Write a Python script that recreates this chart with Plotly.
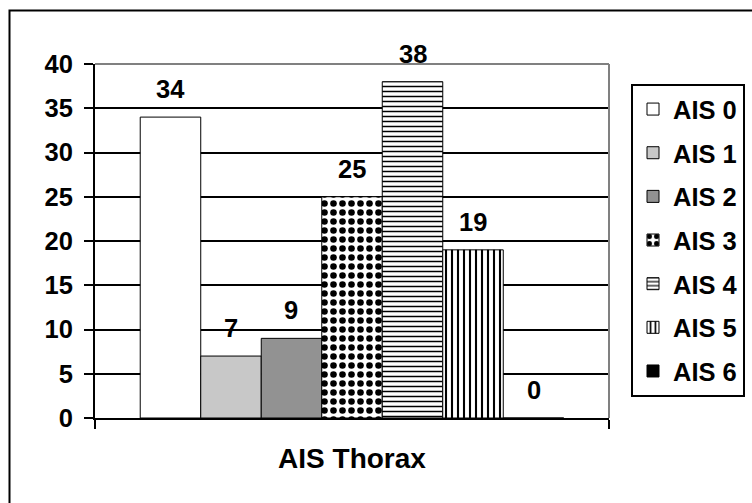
import plotly.graph_objects as go

# Chart data
category = "AIS Thorax"
series_names = ["AIS 0", "AIS 1", "AIS 2", "AIS 3", "AIS 4", "AIS 5", "AIS 6"]
series_values = [34, 7, 9, 25, 38, 19, 0]
y_ticks = [0, 5, 10, 15, 20, 25, 30, 35, 40]

# Fill styles for each series: (fill colour, pattern shape, pattern size, solidity)
fills = [
    ("white", "", 8, 0.3),
    ("#C8C8C8", "", 8, 0.3),
    ("#929292", "", 8, 0.3),
    ("white", ".", 9, 0.42),
    ("white", "-", 5, 0.3),
    ("white", "|", 6, 0.35),
    ("black", "", 8, 0.3),
]

W, H = 752, 503
PLOT_L, PLOT_R, PLOT_T, PLOT_B = 95, 609, 64, 418
BARGAP = 0.176
FONT = "Liberation Sans, Arial, sans-serif"

fig = go.Figure()
for i, (name, val) in enumerate(zip(series_names, series_values)):
    color, shape, size, solid = fills[i]
    marker = dict(color=color, line=dict(color="black", width=1))
    if shape:
        marker["pattern"] = dict(shape=shape, size=size, solidity=solid,
                                 fgcolor="black", bgcolor="white", fillmode="replace")
    fig.add_trace(go.Bar(
        x=[category], y=[val], name=name, marker=marker,
        legendgroup=name,
    ))

# Value labels above each bar, centred on the grouped bar positions
n = len(series_values)
group_w = 1 - BARGAP
bar_w = group_w / n
for i, val in enumerate(series_values):
    xc = -group_w / 2 + bar_w * (i + 0.5)
    fig.add_annotation(
        x=xc, y=val, xref="x", yref="y", text=str(val), showarrow=False,
        yanchor="bottom", yshift=12,
        font=dict(family=FONT, size=25.5, color="black", weight="bold"),
    )

# Grey plot-area border on the top and right sides
px = lambda v: v / W
py = lambda v: 1 - v / H
fig.add_shape(type="line", xref="paper", yref="paper",
              x0=px(PLOT_L), x1=px(PLOT_R), y0=py(PLOT_T), y1=py(PLOT_T),
              line=dict(color="#808080", width=2), layer="above")
fig.add_shape(type="line", xref="paper", yref="paper",
              x0=px(PLOT_R), x1=px(PLOT_R), y0=py(PLOT_T), y1=py(PLOT_B),
              line=dict(color="#808080", width=2), layer="above")

# Outer chart frame
fig.add_shape(type="rect", xref="paper", yref="paper",
              x0=px(9.5), x1=1.1, y0=-0.1, y1=py(10.5),
              line=dict(color="black", width=2), fillcolor="rgba(0,0,0,0)")

fig.update_layout(
    template="none",
    width=W, height=H,
    margin=dict(l=0, r=0, t=0, b=0),
    paper_bgcolor="white", plot_bgcolor="white",
    barmode="group", bargap=BARGAP, bargroupgap=0,
    font=dict(family=FONT, size=25.5, color="black", weight="bold"),
    xaxis=dict(
        domain=[px(PLOT_L), px(PLOT_R)],
        type="category", range=[-0.5, 0.5],
        showline=True, linecolor="black", linewidth=2,
        ticks="outside", tickson="boundaries", ticklen=9, tickwidth=1.5,
        tickcolor="black", showgrid=False, zeroline=False,
        tickfont=dict(family=FONT, size=28, color="black", weight="bold"),
        ticklabelstandoff=14, automargin=False,
    ),
    yaxis=dict(
        domain=[py(PLOT_B), py(PLOT_T)],
        range=[0, 40], tickvals=y_ticks,
        showline=True, linecolor="black", linewidth=2,
        ticks="outside", ticklen=9, tickwidth=1.5, tickcolor="black",
        showgrid=True, gridcolor="black", gridwidth=1.5, zeroline=False,
        tickfont=dict(family=FONT, size=25.5, color="black", weight="bold"),
        ticklabelstandoff=6, automargin=False,
    ),
    showlegend=True,
    legend=dict(
        x=px(631), y=py(84), xanchor="left", yanchor="top",
        bgcolor="white", bordercolor="black", borderwidth=2,
        tracegroupgap=7.5, traceorder="grouped",
        font=dict(family=FONT, size=25.5, color="black", weight="bold"),
    ),
)

fig.write_html("out.html")
